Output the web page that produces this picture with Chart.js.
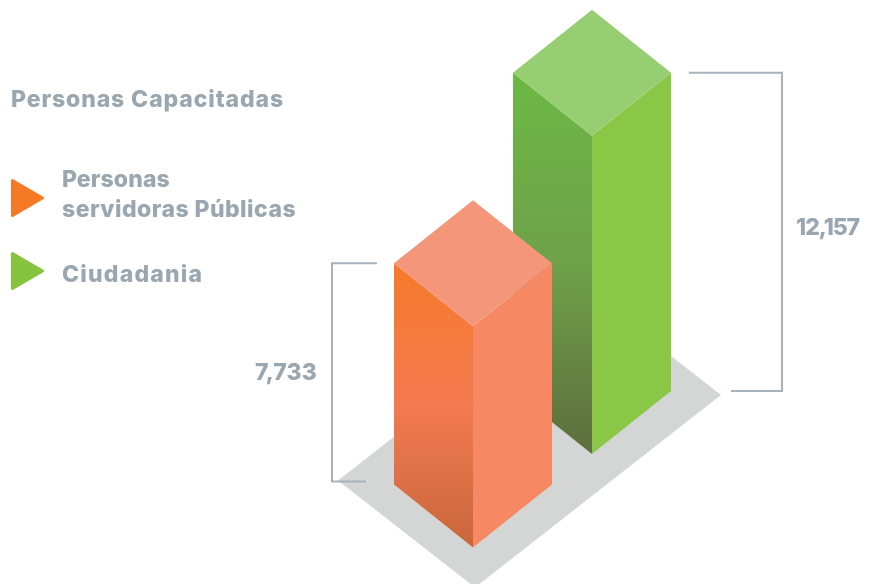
<!DOCTYPE html>
<html>
<head>
<meta charset="utf-8">
<title>Personas Capacitadas</title>
<script src="https://cdn.jsdelivr.net/npm/chart.js@4"></script>
<style>
  html, body { margin: 0; padding: 0; background: #fff; overflow: hidden; }
  canvas { display: block; }
</style>
</head>
<body>
<canvas id="barChart" width="869" height="584"></canvas>
<script>
// ========== Data ==========
const chartTitle = "Personas Capacitadas";
const categories = ["Personas servidoras Públicas", "Ciudadania"];
const legendLines = [["Personas", "servidoras Públicas"], ["Ciudadania"]];
const personasValues = [7733, 12157];

// ========== Style ==========
const TEXT_COLOR = "#9ba7b0";
const LINE_COLOR = "#a7b3bc";
const FLOOR_COLOR = "#d4d6d5";
const FONT = "Inter";

const faces = [
  {
    legend: "#f57a25",
    top: "#f49679",
    right: "#f68963",
    left: [[0, "#f57a2a"], [0.5, "#f47a50"], [1, "#c8673b"]],
    drop: 93.5,          // this bar stands nearer to the viewer on the floor
    bracket: { side: -1, gap: 17, reach: 62, stub: 28, bottomShift: -3 },
    label: { x: 317, y: 372, align: "right", spacing: 0.1 },
    legendY: 198,
  },
  {
    legend: "#86c440",
    top: "#98ce72",
    right: "#8bc747",
    left: [[0, "#6cb944"], [0.5, "#6fa14a"], [1, "#5c6e3c"]],
    drop: 0,
    bracket: { side: 1, gap: 18, reach: 111, stub: 60, bottomShift: 0 },
    label: { x: 859, y: 227, align: "right", spacing: -1.1 },
    legendY: 271,
  },
];

// ========== Helpers ==========
function poly(ctx, pts, fill) {
  ctx.beginPath();
  pts.forEach((p, i) => (i ? ctx.lineTo(p[0], p[1]) : ctx.moveTo(p[0], p[1])));
  ctx.closePath();
  ctx.fillStyle = fill;
  ctx.fill();
}

function label(ctx, str, x, y, size, align, spacing) {
  ctx.font = `800 ${size}px ${FONT}`;
  ctx.letterSpacing = `${spacing || 0}px`;
  ctx.fillStyle = TEXT_COLOR;
  ctx.textAlign = align || "left";
  ctx.textBaseline = "alphabetic";
  ctx.fillText(str, x, y);
}

// ========== 3D bars, built from the bar elements ==========
const prismPlugin = {
  id: "prisms",
  beforeDatasetsDraw(chart) {
    const { ctx } = chart;
    const bars = chart.getDatasetMeta(0).data;
    const near = { x: bars[0].x, y: bars[0].base + faces[0].drop };
    const far = { x: bars[1].x, y: bars[1].base + faces[1].drop };

    // floor shadow
    poly(ctx, [
      [near.x - 135, near.y - 67],
      [far.x - 8, far.y - 166],
      [far.x + 129, far.y - 59],
      [near.x + 2, near.y + 40],
    ], FLOOR_COLOR);
  },
  afterDatasetsDraw(chart) {
    const { ctx } = chart;
    const bars = chart.getDatasetMeta(0).data;

    [1, 0].forEach((i) => {
      const bar = bars[i];
      const f = faces[i];
      const hw = bar.width / 2;
      const hd = hw * 0.797;
      const cx = bar.x;
      const topY = bar.y + f.drop;
      const baseY = bar.base + f.drop;

      const grad = ctx.createLinearGradient(0, topY - hd, 0, baseY);
      f.left.forEach((s) => grad.addColorStop(s[0], s[1]));
      poly(ctx, [[cx - hw, topY - hd], [cx, topY], [cx, baseY], [cx - hw, baseY - hd]], grad);
      poly(ctx, [[cx, topY], [cx + hw, topY - hd], [cx + hw, baseY - hd], [cx, baseY]], f.right);
      poly(ctx, [[cx, topY - 2 * hd], [cx + hw, topY - hd], [cx, topY], [cx - hw, topY - hd]], f.top);

      // bracket
      const b = f.bracket;
      const edge = cx + b.side * hw;
      const vx = edge + b.side * b.reach;
      const y1 = topY - hd;
      const y2 = baseY - hd + b.bottomShift;
      ctx.beginPath();
      ctx.moveTo(edge + b.side * b.gap, y1);
      ctx.lineTo(vx, y1);
      ctx.lineTo(vx, y2);
      ctx.lineTo(edge + b.side * b.stub, y2);
      ctx.strokeStyle = LINE_COLOR;
      ctx.lineWidth = 2;
      ctx.stroke();

      // value
      const val = chart.data.datasets[0].data[i];
      label(ctx, val.toLocaleString("en-US"), f.label.x, f.label.y + 8, 23, f.label.align, f.label.spacing);
    });

    // title + legend
    label(ctx, chartTitle, 11, 107, 23, "left", 0.9);
    faces.forEach((f, i) => {
      poly(ctx, [[12.5, f.legendY - 17.5], [42.5, f.legendY], [12.5, f.legendY + 17.5]], f.legend);
      ctx.strokeStyle = f.legend;
      ctx.lineWidth = 3;
      ctx.lineJoin = "round";
      ctx.stroke();
      ctx.lineJoin = "miter";
    });
    label(ctx, legendLines[0][0], 62, 187, 23, "left", 0.1);
    label(ctx, legendLines[0][1], 62, 217, 23, "left", 0.45);
    label(ctx, legendLines[1][0], 62, 282, 23, "left", 1.2);
  },
};

// ========== Chart.js ==========
new Chart(document.getElementById("barChart").getContext("2d"), {
  type: "bar",
  data: {
    labels: categories,
    datasets: [
      {
        label: chartTitle,
        data: personasValues,
        backgroundColor: "transparent",
        barThickness: 158,
        base: -2350,
      },
    ],
  },
  options: {
    responsive: false,
    animation: false,
    events: [],
    layout: { padding: { left: 413.5, right: 217.5, top: 36, bottom: 130 } },
    plugins: { legend: { display: false }, tooltip: { enabled: false } },
    scales: {
      x: { display: false },
      y: { display: false, min: -2350, max: 16700 },
    },
  },
  plugins: [prismPlugin],
});
</script>
</body>
</html>
